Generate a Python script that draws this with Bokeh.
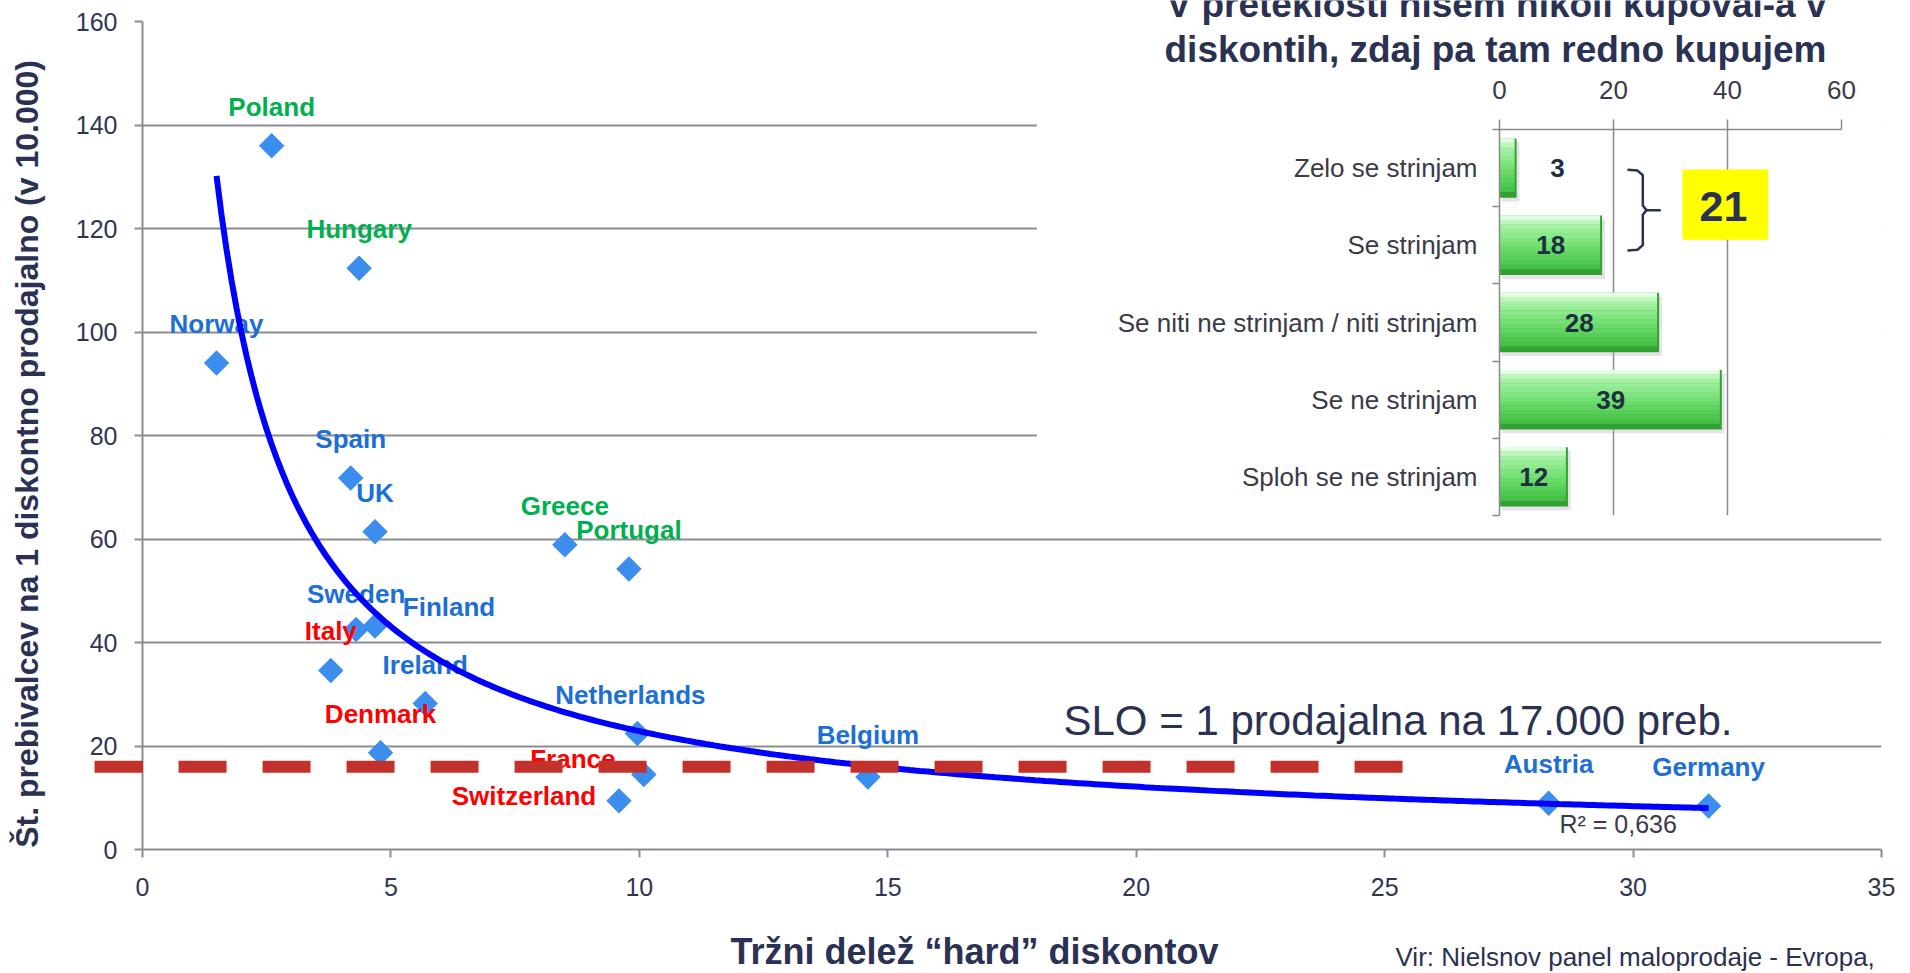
import numpy as np
from bokeh.plotting import figure
from bokeh.models import ColumnDataSource, Range1d, FixedTicker, BoxAnnotation, Label
from bokeh.embed import file_html
from bokeh.resources import INLINE
from bokeh.core.properties import value

# ---------------- data: main scatter ----------------
countries = ["Poland", "Hungary", "Norway", "Spain", "UK", "Greece", "Portugal",
             "Sweden", "Finland", "Italy", "Ireland", "Netherlands", "Denmark",
             "France", "Switzerland", "Belgium", "Austria", "Germany"]
hard_discount_share = [2.60, 4.36, 1.49, 4.19, 4.68, 8.50, 9.79, 4.30, 4.68, 3.79,
                       5.69, 9.96, 4.79, 10.09, 9.59, 14.60, 28.30, 31.52]
inhabitants_per_store = [136.0, 112.3, 94.0, 71.8, 61.4, 58.9, 54.2, 42.5, 43.2, 34.6,
                         28.2, 22.4, 18.7, 14.5, 9.4, 14.0, 8.95, 8.4]
country_group = ["green", "green", "blue", "blue", "blue", "green", "green", "blue", "blue",
                 "red", "blue", "blue", "red", "red", "red", "blue", "blue", "blue"]
x_ticks = [0, 5, 10, 15, 20, 25, 30, 35]
y_ticks = [0, 20, 40, 60, 80, 100, 120, 140, 160]
slo_level = 16.0
slo_span = [-0.965, 25.37]
r2_text = "R² = 0,636"

# ---------------- data: inset bar chart ----------------
answers = ["Zelo se strinjam", "Se strinjam", "Se niti ne strinjam / niti strinjam",
           "Se ne strinjam", "Sploh se ne strinjam"]
shares = [3, 18, 28, 39, 12]
inset_ticks = [0, 20, 40, 60]

# ---------------- styles ----------------
FONT = "Liberation Sans"
NAVY = "#2B3152"
TICK_C = "#30364F"
GRID_C = "#8C8C94"
INSET_LINE = "#8A8A8A"
SLO_C = "#C3312B"
GROUP_COLORS = {"green": "#00B050", "blue": "#1B6FD5", "red": "#FF0000"}
label_dx = {"Finland": 74, "France": -71, "Switzerland": -95, "Netherlands": -7}
label_dy = {"Finland": -19, "France": -15, "Switzerland": -5, "Sweden": -36, "Belgium": -42}

W, H = 1908, 972
ML, MR, MT, MB = 142, 27, 21, 123
FL, FR, FT, FB = ML, W - MR, MT, H - MB   # main frame, page px

def PX(x):   # main data -> page px
    return FL + x / 35.0 * (FR - FL)
def PY(y):
    return FB - y / 160.0 * (FB - FT)

OVERLAY = {"position": "absolute", "left": "0px", "top": "0px"}

# ---------------- main figure ----------------
p = figure(width=W, height=H, x_range=Range1d(0, 35), y_range=Range1d(0, 160),
           output_backend="svg", toolbar_location=None,
           min_border_left=ML, min_border_right=MR, min_border_top=MT, min_border_bottom=MB)
p.styles = OVERLAY
p.outline_line_color = None
p.background_fill_color = "white"
p.border_fill_color = "white"
p.xgrid.visible = False
p.ygrid.ticker = FixedTicker(ticks=y_ticks)
p.ygrid.grid_line_color = GRID_C
p.ygrid.grid_line_width = 2
p.xaxis.ticker = FixedTicker(ticks=x_ticks)
p.yaxis.ticker = FixedTicker(ticks=y_ticks)
for ax in (p.xaxis[0], p.yaxis[0]):
    ax.axis_line_color = GRID_C
    ax.axis_line_width = 2
    ax.major_tick_line_color = GRID_C
    ax.major_tick_line_width = 2
    ax.major_tick_out = 8
    ax.major_tick_in = 0
    ax.minor_tick_line_color = None
    ax.major_label_text_font = FONT
    ax.major_label_text_font_size = "25px"
    ax.major_label_text_color = TICK_C
p.yaxis.major_label_standoff = 17
p.xaxis.major_label_standoff = 20

# white panel behind the inset
p.add_layout(BoxAnnotation(left=18.0, right=36, bottom=62, top=163,
                           fill_color="white", fill_alpha=1, line_color=None))

src = ColumnDataSource(dict(
    x=hard_discount_share, y=inhabitants_per_store, name=countries,
    color=[GROUP_COLORS[g] for g in country_group],
    dx=[label_dx.get(c, 0) for c in countries],
    dy=[label_dy.get(c, -39) for c in countries],
))
p.scatter("x", "y", source=src, marker="square", angle=np.pi / 4, size=18,
          fill_color="#3B8DEE", line_color=None)
p.text("x", "y", text="name", source=src, x_offset="dx", y_offset="dy",
       text_color="color", text_font=value(FONT), text_font_style="bold",
       text_font_size="26px", text_align="center", text_baseline="middle")

# power trendline fitted to the data (as Excel does)
lx = np.log(np.array(hard_discount_share))
ly = np.log(np.array(inhabitants_per_store))
b, lna = np.polyfit(lx, ly, 1)
xs = np.linspace(min(hard_discount_share), max(hard_discount_share), 300)
p.line(xs, np.exp(lna) * xs ** b, line_color="#0000FF", line_width=6)

# SLO reference line
p.line(slo_span, [slo_level, slo_level], line_color=SLO_C, line_width=12,
       line_dash="48 36", line_cap="butt")

# ---------------- inset figure (overlaid) ----------------
IML, IMR, IMT, IMB = 1499, 67, 129, 457
IFL, IFR, IFT, IFB = IML, W - IMR, IMT, H - IMB
def IX(px):
    return (px - IFL) / (IFR - IFL) * 60.0
def IY(py):
    return -0.5 + (py - IFT) / (IFB - IFT) * 5.0

q = figure(width=W, height=H, x_range=Range1d(0, 60), y_range=Range1d(4.5, -0.5),
           x_axis_location="above", output_backend="svg", toolbar_location=None,
           min_border_left=IML, min_border_right=IMR, min_border_top=IMT, min_border_bottom=IMB)
q.styles = OVERLAY
q.background_fill_color = None
q.border_fill_color = None
q.outline_line_color = None
q.ygrid.visible = False
q.xgrid.ticker = FixedTicker(ticks=inset_ticks)
q.xgrid.grid_line_color = INSET_LINE
q.xgrid.grid_line_width = 1.5
q.xaxis.ticker = FixedTicker(ticks=inset_ticks)
idx = list(range(len(answers)))
q.yaxis.ticker = FixedTicker(ticks=idx, minor_ticks=[i - 0.5 for i in range(len(answers) + 1)])
q.yaxis.major_label_overrides = {i: a for i, a in zip(idx, answers)}
for ax in (q.xaxis[0], q.yaxis[0]):
    ax.axis_line_color = INSET_LINE
    ax.axis_line_width = 1.5
    ax.major_tick_line_color = INSET_LINE
    ax.minor_tick_line_color = INSET_LINE
    ax.major_tick_line_width = 1.5
    ax.minor_tick_line_width = 1.5
    ax.major_label_text_font = FONT
    ax.major_label_text_font_size = "26px"
    ax.major_label_text_color = "#3A3A48"
q.xaxis.major_tick_out = 10
q.xaxis.major_tick_in = 0
q.xaxis.minor_tick_out = 0
q.xaxis.major_label_standoff = 21
q.yaxis.major_tick_out = 0
q.yaxis.major_tick_in = 0
q.yaxis.minor_tick_out = 7
q.yaxis.minor_tick_in = 0
q.yaxis.major_label_standoff = 15

BAR_H = 0.77
q.hbar(y=[i + 0.05 for i in idx], left=0.4, right=[v + 0.5 for v in shares], height=BAR_H,
       fill_color="#b8aeb6", fill_alpha=0.35, line_color=None)
q.hbar(y=idx, left=0, right=shares, height=BAR_H, fill_color="#33A033", line_color=None)

def hexrgb(h):
    return tuple(int(h[i:i + 2], 16) for i in (1, 3, 5))
stops = [(0.0, hexrgb("#E2FDE2")), (0.15, hexrgb("#A8F3A8")),
         (0.55, hexrgb("#74E074")), (1.0, hexrgb("#45C245"))]
def grad(t):
    for (t0, c0), (t1, c1) in zip(stops[:-1], stops[1:]):
        if t <= t1:
            u = (t - t0) / (t1 - t0)
            return "#%02x%02x%02x" % tuple(int(round(a + (b_ - a) * u)) for a, b_ in zip(c0, c1))
    return "#%02x%02x%02x" % stops[-1][1]

NS = 12
inner = BAR_H * 0.9
for k in range(NS):
    yk = [i - BAR_H / 2 + (k + 0.5) * inner / NS for i in idx]
    q.hbar(y=yk, left=0, right=[v - 0.35 for v in shares], height=inner / NS * 1.1,
           fill_color=grad(k / (NS - 1)), line_color=None)

q.text(x=[v / 2 if v >= 5 else v for v in shares], y=idx, text=[str(v) for v in shares],
       x_offset=[0 if v >= 5 else 41 for v in shares],
       text_font=value(FONT), text_font_style="bold", text_font_size="26px",
       text_color="#1E3040", text_align="center", text_baseline="middle")

yt, yb = IY(169.3), IY(250)
ym = (yt + yb) / 2
bx = [IX(1627), IX(1637), IX(1642.3), IX(1642.3), IX(1646), IX(1659.3),
      IX(1646), IX(1642.3), IX(1642.3), IX(1637), IX(1627)]
by = [yt, yt + 0.01, yt + 0.07, ym - 0.06, ym, ym, ym, ym + 0.06, yb - 0.07, yb - 0.01, yb]
q.line(bx, by, line_color=NAVY, line_width=2.5, line_join="round")

q.quad(left=[IX(1682)], right=[IX(1767.7)], top=[IY(169)], bottom=[IY(239.3)],
       fill_color="#FFFF00", line_color=None)
q.text(x=[IX(1723)], y=[IY(205.5)], text=[str(shares[0] + shares[1])],
       text_font=value(FONT), text_font_style="bold", text_font_size="43px",
       text_color=NAVY, text_align="center", text_baseline="middle")

# ---------------- text layer (page-pixel coordinates, overlaid) ----------------
t = figure(width=W, height=H, x_range=Range1d(0, W), y_range=Range1d(H, 0),
           x_axis_type=None, y_axis_type=None, output_backend="svg", toolbar_location=None,
           min_border_left=0, min_border_right=0, min_border_top=0, min_border_bottom=0)
t.styles = OVERLAY
t.background_fill_color = None
t.border_fill_color = None
t.outline_line_color = None
t.grid.visible = False

# first SLO dash, left of the value axis
t.quad(left=[PX(slo_span[0])], right=[PX(0) + 0.5], top=[PY(slo_level) - 6],
       bottom=[PY(slo_level) + 6], fill_color=SLO_C, line_color=None)

MID = 0.35   # text middle above the alphabetic baseline, in em

def lab(x, base, text, fs, bold=False, color=NAVY, align="left", vertical=False):
    if vertical:
        x, y, ang = x - MID * fs, base, np.pi / 2
    else:
        x, y, ang = x, base - MID * fs, 0
    t.add_layout(Label(x=x, y=y, text=text, text_font=FONT, text_font_size=f"{fs}px",
                       text_font_style="bold" if bold else "normal", text_color=color,
                       text_align=align, text_baseline="middle", angle=ang))

lab(1063, 735, "SLO = 1 prodajalna na 17.000 preb.", 42)
lab(1559, 832, r2_text, 25, color="#3A3A4A")
lab(974, 964, "Tržni delež “hard” diskontov", 36, bold=True, align="center")
lab(1395, 966, "Vir: Nielsnov panel maloprodaje - Evropa,", 26)
lab(38, 453.4, "Št. prebivalcev na 1 diskontno prodajalno (v 10.000)", 32,
    bold=True, align="center", vertical=True)
lab(1496, 16.5, "V preteklosti nisem nikoli kupoval-a v", 37, bold=True, align="center")
lab(1495, 62, "diskontih, zdaj pa tam redno kupujem", 37, bold=True, align="center")

open("out.html", "w").write(file_html([p, q, t], INLINE))
